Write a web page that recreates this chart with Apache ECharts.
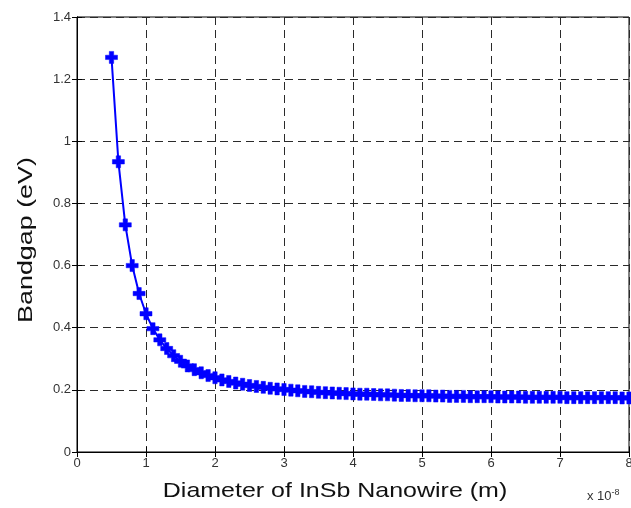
<!DOCTYPE html>
<html><head><meta charset="utf-8">
<script src="https://cdn.jsdelivr.net/npm/echarts@6/dist/echarts.min.js"></script>
<style>html,body{margin:0;padding:0;background:#fff}#c{width:631px;height:508px}</style>
</head><body><div id="c"></div>
<script>
// Diameter in units of 1e-8 m
const diameters = [0.5,0.6,0.7,0.8,0.9,1.0,1.1,1.2,1.3,1.4,1.5,1.6,1.7,1.8,1.9,2.0,2.1,2.2,2.3,2.4,2.5,2.6,2.7,2.8,2.9,3.0,3.1,3.2,3.3,3.4,3.5,3.6,3.7,3.8,3.9,4.0,4.1,4.2,4.3,4.4,4.5,4.6,4.7,4.8,4.9,5.0,5.1,5.2,5.3,5.4,5.5,5.6,5.7,5.8,5.9,6.0,6.1,6.2,6.3,6.4,6.5,6.6,6.7,6.8,6.9,7.0,7.1,7.2,7.3,7.4,7.5,7.6,7.7,7.8,7.9,8.0];
const bandgap = [1.270,0.934,0.731,0.600,0.510,0.445,0.397,0.361,0.333,0.310,0.292,0.277,0.265,0.255,0.246,0.239,0.232,0.227,0.222,0.218,0.214,0.211,0.208,0.205,0.203,0.201,0.199,0.197,0.195,0.194,0.192,0.191,0.190,0.189,0.188,0.187,0.186,0.186,0.185,0.184,0.184,0.183,0.182,0.182,0.181,0.181,0.181,0.180,0.180,0.179,0.179,0.179,0.178,0.178,0.178,0.178,0.177,0.177,0.177,0.177,0.176,0.176,0.176,0.176,0.176,0.176,0.175,0.175,0.175,0.175,0.175,0.175,0.175,0.175,0.174,0.174];
const xTicks = [0,1,2,3,4,5,6,7,8];
const yTicks = [0,0.2,0.4,0.6,0.8,1,1.2,1.4];
const xTitle = 'Diameter of InSb Nanowire (m)';
const yTitle = 'Bandgap (eV)';

const chart = echarts.init(document.getElementById('c'), null, {renderer:'canvas'});
const font = 'Liberation Sans, Arial, sans-serif';
const gridLine = {show:true, lineStyle:{color:'#2a2a2a', type:[8,5], width:1}};
const plus = 'path://M3.5,0 H7.5 V3.5 H11 V7.5 H7.5 V11 H3.5 V7.5 H0 V3.5 H3.5 Z';
chart.setOption({
  animation:false,
  grid:{left:77, right:2, top:17, bottom:56, show:true, borderColor:'#000', borderWidth:1,
    containLabel:false, outerBoundsMode:'none'},
  xAxis:[{
    type:'value', min:0, max:8, interval:1,
    axisLine:{show:true, lineStyle:{color:'#000'}},
    axisTick:{show:true, inside:true, length:5, lineStyle:{color:'#000'}},
    axisLabel:{color:'#333', fontSize:13, fontFamily:font, margin:5,
      formatter:v=>xTicks.includes(v)?String(v):''},
    splitLine:gridLine
  },{
    type:'value', min:0, max:8, interval:1, position:'top',
    axisLine:{show:true, lineStyle:{color:'#000'}},
    axisTick:{show:true, inside:true, length:5, lineStyle:{color:'#000'}},
    axisLabel:{show:false}, splitLine:{show:false}
  }],
  yAxis:[{
    type:'value', min:0, max:1.4, interval:0.2,
    axisLine:{show:true, lineStyle:{color:'#000'}},
    axisTick:{show:true, inside:true, length:5, lineStyle:{color:'#000'}},
    axisLabel:{color:'#333', fontSize:13, fontFamily:font, margin:6,
      formatter:v=>{const r=Math.round(v*10)/10; return yTicks.includes(r)?String(r):'';}},
    splitLine:gridLine
  },{
    type:'value', min:0, max:1.4, interval:0.2, position:'right',
    axisLine:{show:true, lineStyle:{color:'#000'}},
    axisTick:{show:true, inside:true, length:5, lineStyle:{color:'#000'}},
    axisLabel:{show:false}, splitLine:{show:false}
  }],
  graphic:[{
    type:'text', x:335, y:491, scaleX:1.19, scaleY:1,
    style:{text:xTitle, fill:'#111', font:'21px '+font, align:'center', verticalAlign:'middle'}
  },{
    type:'text', x:26, y:240, rotation:Math.PI/2, scaleX:1.28, scaleY:1,
    style:{text:yTitle, fill:'#111', font:'21px '+font, align:'center', verticalAlign:'middle'}
  },{
    type:'text', left:587, top:488,
    style:{text:'x 10{s|-8}', fill:'#333', font:'13px '+font,
      rich:{s:{fontSize:9, verticalAlign:'top', padding:[0,0,8,0], fill:'#333'}}}
  }],
  series:[{
    type:'line',
    data:diameters.map((d,i)=>[d,bandgap[i]]),
    xAxisIndex:0, yAxisIndex:0,
    symbol:plus, symbolSize:12, showAllSymbol:true,
    itemStyle:{color:'#0000ff', borderColor:'#0000ff', borderWidth:0.5},
    lineStyle:{color:'#0000ff', width:2},
    clip:false
  }]
});
</script></body></html>
